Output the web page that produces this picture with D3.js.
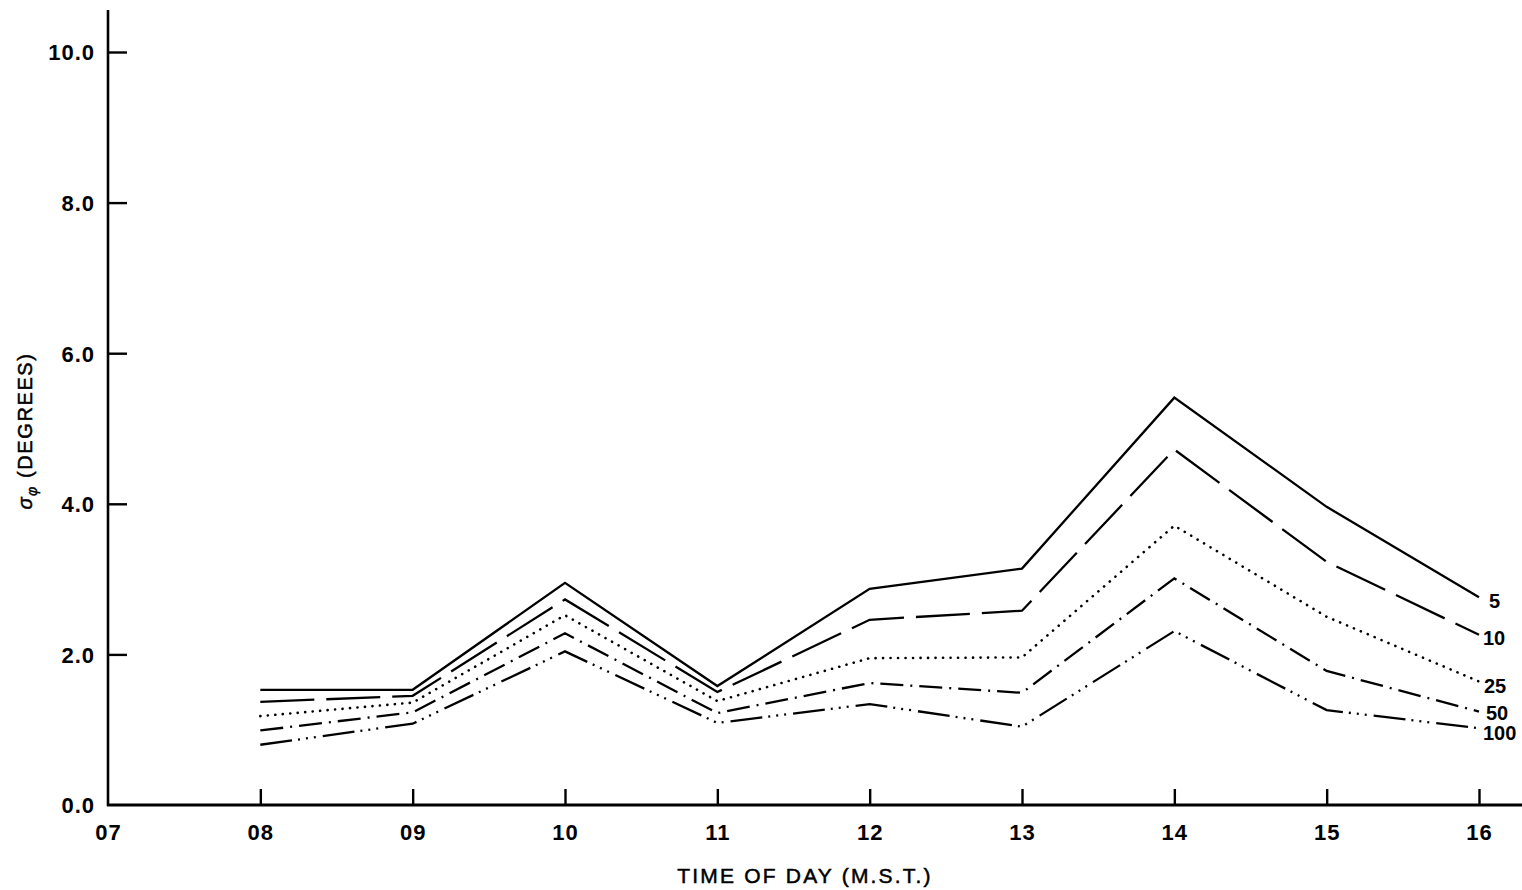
<!DOCTYPE html>
<html>
<head>
<meta charset="utf-8">
<script src="https://cdn.jsdelivr.net/npm/d3@7"></script>
<style>
  html, body { margin: 0; padding: 0; background: #fff; }
  svg { display: block; }
  text { font-family: "Liberation Sans", Arial, Helvetica, sans-serif; fill: #000; }
</style>
</head>
<body>
<svg id="chart" width="1522" height="890"></svg>
<script>
// Hour of day (M.S.T.)
const hours = [8, 9, 10, 11, 12, 13, 14, 15, 16];
const xTickLabels = ["07", "08", "09", "10", "11", "12", "13", "14", "15", "16"];
const yTicks = [0, 2, 4, 6, 8, 10];

// Standard deviation of wind direction (degrees), one series per averaging level
const seriesNames = ["5", "10", "25", "50", "100"];
const sigma5   = [1.53, 1.53, 2.95, 1.58, 2.87, 3.14, 5.41, 3.96, 2.76];
const sigma10  = [1.37, 1.45, 2.73, 1.50, 2.46, 2.58, 4.72, 3.23, 2.26];
const sigma25  = [1.18, 1.36, 2.52, 1.38, 1.95, 1.96, 3.71, 2.50, 1.64];
const sigma50  = [0.99, 1.23, 2.28, 1.22, 1.62, 1.49, 3.01, 1.78, 1.24];
const sigma100 = [0.80, 1.08, 2.04, 1.09, 1.34, 1.04, 2.31, 1.26, 1.02];
const seriesValues = [sigma5, sigma10, sigma25, sigma50, sigma100];

// solid, long dash, dotted, dash-dot, dash with three dots
const dashes = ["none", "54,12", "0.1,7.4", "23,7,2,7", "32,6,2,6,2,6,2,7"];
const labelX = [1489, 1483, 1484, 1486, 1483];
const labelDy = [11, 10, 11.5, 8.5, 12];

const svg = d3.select("#chart");
const x = d3.scaleLinear().domain([7, 16]).range([108, 1479]);
const y = d3.scaleLinear().domain([0, 10]).range([805, 52]);

// Axis lines
svg.append("line")
  .attr("x1", x(7) - 1).attr("x2", 1522)
  .attr("y1", y(0)).attr("y2", y(0))
  .attr("stroke", "#000").attr("stroke-width", 2.8);
svg.append("line")
  .attr("x1", x(7)).attr("x2", x(7))
  .attr("y1", 10).attr("y2", y(0) + 1)
  .attr("stroke", "#000").attr("stroke-width", 2.6);

// x ticks point up into the plot
const xAxis = d3.axisBottom(x)
  .tickValues(d3.range(7, 17))
  .tickSize(0)
  .tickPadding(19)
  .tickFormat((d, i) => xTickLabels[i]);
const gx = svg.append("g").attr("transform", `translate(0,${y(0)})`).call(xAxis);
gx.attr("font-family", null).attr("font-size", null);
gx.select(".domain").remove();
gx.selectAll(".tick text")
  .attr("font-size", 22).attr("font-weight", "bold")
  .attr("letter-spacing", 1).attr("dy", "0.71em");
gx.selectAll(".tick").filter(d => d > 7).append("line")
  .attr("y1", 0).attr("y2", -16)
  .attr("stroke", "#000").attr("stroke-width", 2.4);

// y ticks point right into the plot
const yAxis = d3.axisLeft(y)
  .tickValues(yTicks)
  .tickSize(0)
  .tickPadding(13)
  .tickFormat(d3.format(".1f"));
const gy = svg.append("g").attr("transform", `translate(${x(7)},0)`).call(yAxis);
gy.attr("font-family", null).attr("font-size", null);
gy.select(".domain").remove();
gy.selectAll(".tick text")
  .attr("font-size", 22).attr("font-weight", "bold")
  .attr("letter-spacing", 1).attr("dy", "0.36em");
gy.selectAll(".tick").filter(d => d > 0).append("line")
  .attr("x1", 0).attr("x2", 19)
  .attr("stroke", "#000").attr("stroke-width", 2.4);

// Series lines
const line = d3.line()
  .x((d, i) => x(hours[i]))
  .y(d => y(d));

seriesValues.forEach((vals, k) => {
  svg.append("path")
    .datum(vals)
    .attr("d", line)
    .attr("fill", "none")
    .attr("stroke", "#000")
    .attr("stroke-width", k === 2 ? 2.6 : 2.3)
    .attr("stroke-linecap", k === 2 ? "round" : "butt")
    .attr("stroke-linejoin", "miter")
    .attr("stroke-dasharray", dashes[k]);

  const last = vals[vals.length - 1];
  svg.append("text")
    .attr("x", labelX[k])
    .attr("y", y(last) + labelDy[k])
    .attr("font-size", 20)
    .attr("font-weight", "bold")
    .text(seriesNames[k]);
});

// Axis titles
svg.append("text")
  .attr("x", 805).attr("y", 883)
  .attr("text-anchor", "middle")
  .attr("font-size", 21)
  .attr("letter-spacing", 2.2)
  .attr("stroke", "#000").attr("stroke-width", 0.5)
  .text("TIME OF DAY (M.S.T.)");

const yTitle = svg.append("text")
  .attr("transform", "translate(32,431) rotate(-90)")
  .attr("text-anchor", "middle")
  .attr("font-size", 20)
  .attr("letter-spacing", 1.6)
  .attr("stroke", "#000").attr("stroke-width", 0.5);
yTitle.append("tspan").attr("font-style", "italic").text("σ");
yTitle.append("tspan").attr("font-size", 14).attr("dy", 5).attr("font-style", "italic").text("φ");
yTitle.append("tspan").attr("dy", -5).text(" (DEGREES)");
</script>
</body>
</html>
